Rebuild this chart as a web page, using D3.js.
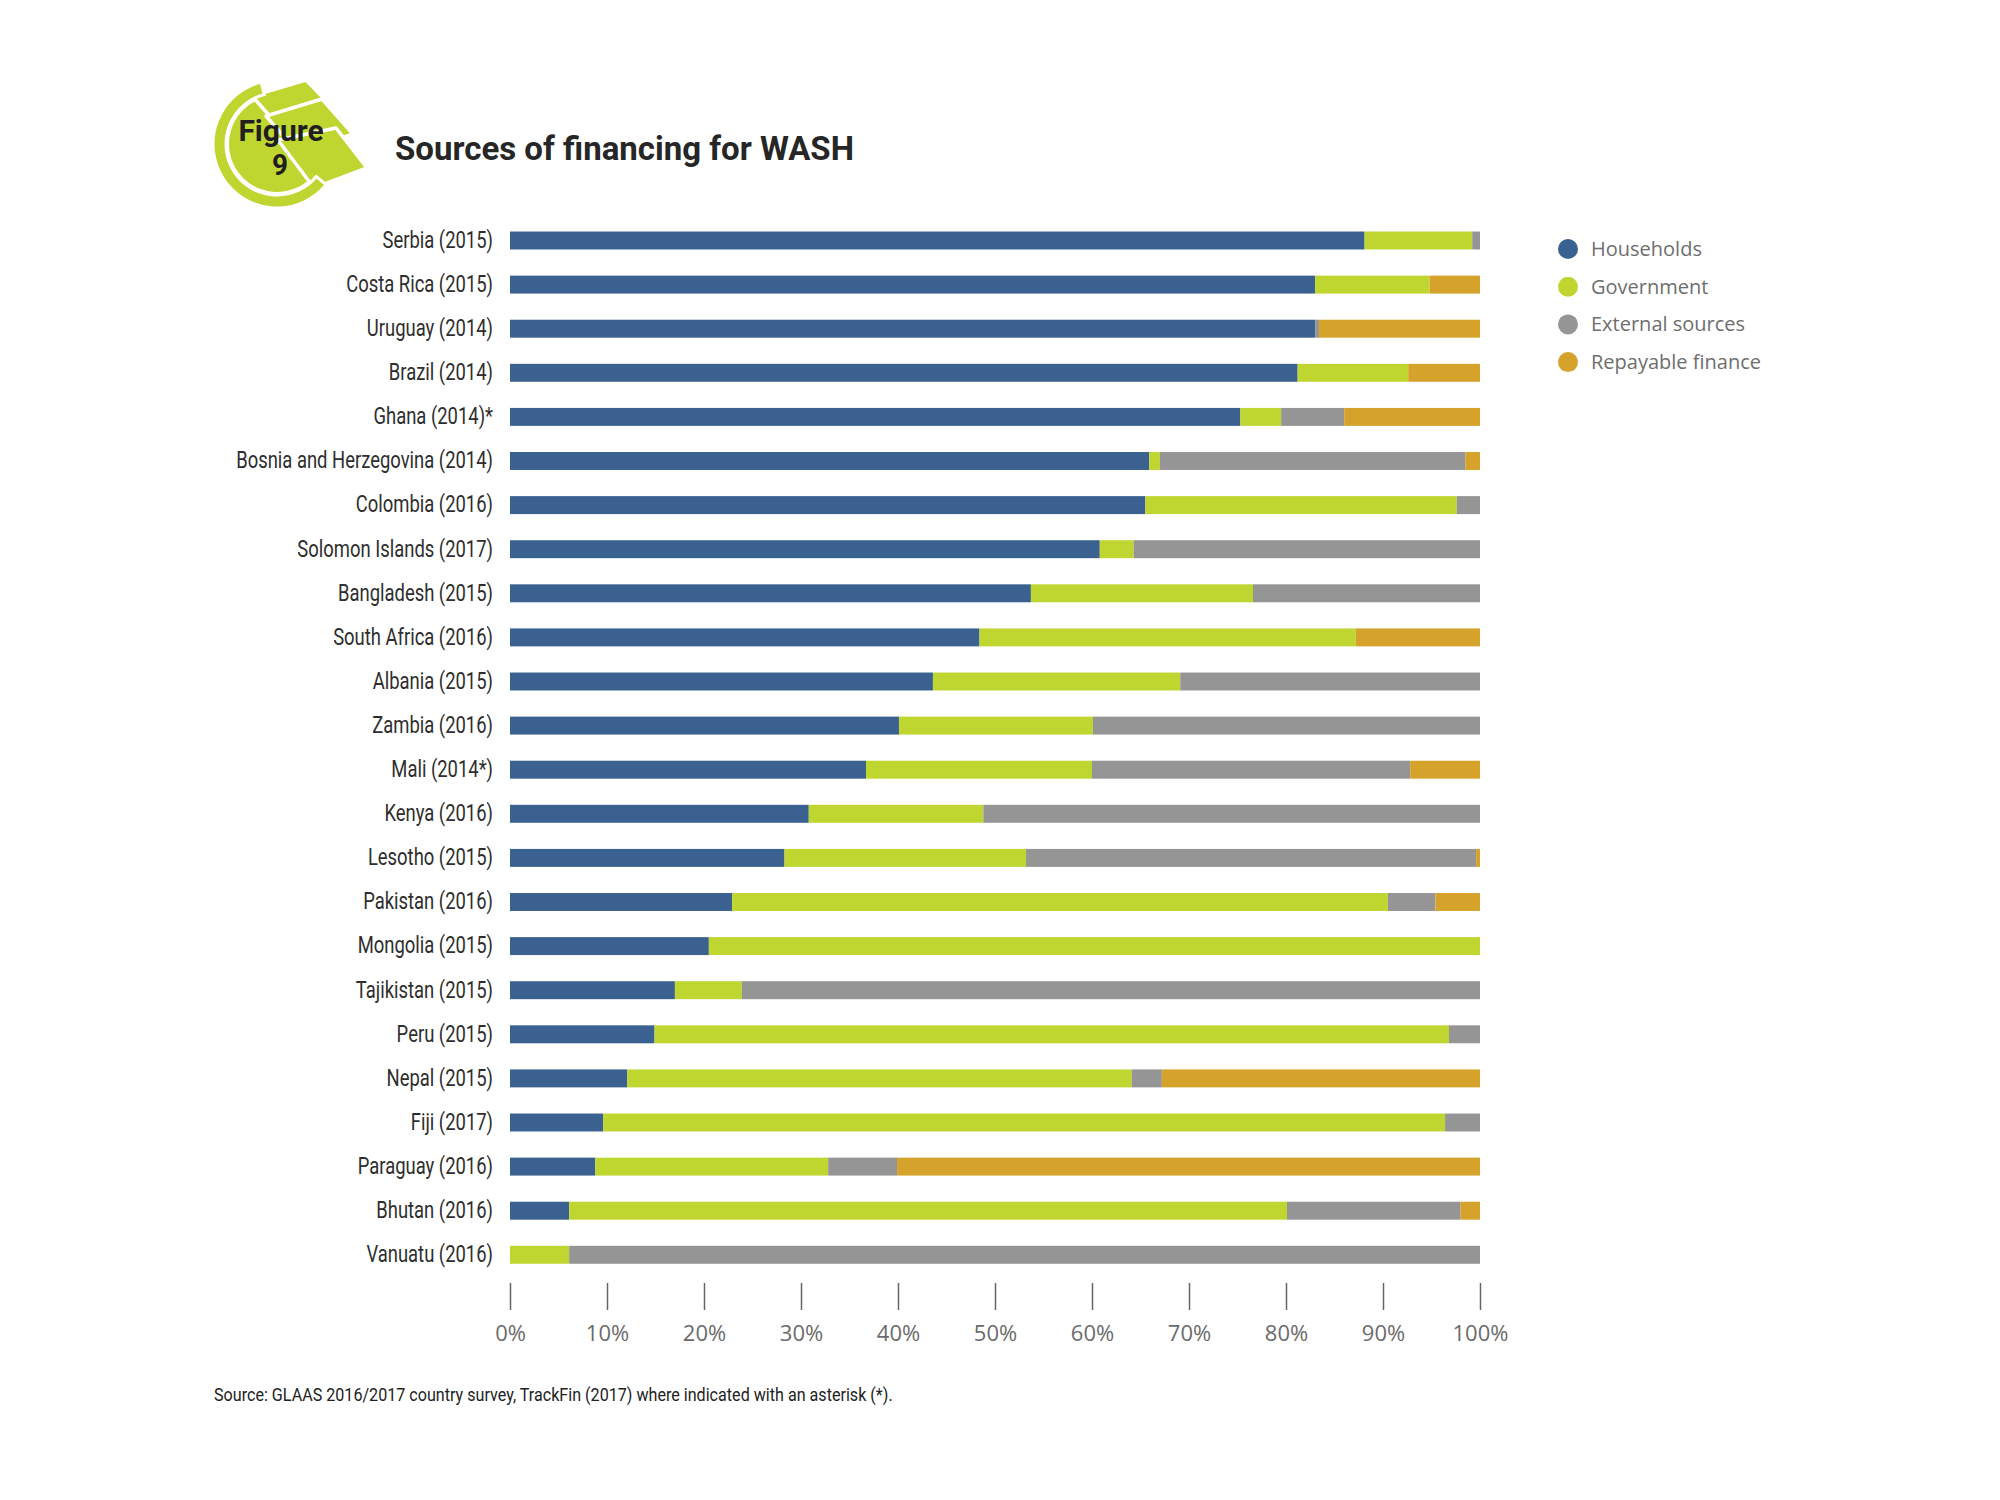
<!DOCTYPE html>
<html>
<head>
<meta charset="utf-8">
<script src="https://cdn.jsdelivr.net/npm/d3@7"></script>
<style>
  body { margin: 0; background: #fff; }
  svg { display: block; }
</style>
</head>
<body>
<div id="chart"></div>
<script>
// countries, top to bottom
const countries = [
  "Serbia (2015)", "Costa Rica (2015)", "Uruguay (2014)", "Brazil (2014)", "Ghana (2014)*",
  "Bosnia and Herzegovina (2014)", "Colombia (2016)", "Solomon Islands (2017)", "Bangladesh (2015)",
  "South Africa (2016)", "Albania (2015)", "Zambia (2016)", "Mali (2014*)", "Kenya (2016)",
  "Lesotho (2015)", "Pakistan (2016)", "Mongolia (2015)", "Tajikistan (2015)", "Peru (2015)",
  "Nepal (2015)", "Fiji (2017)", "Paraguay (2016)", "Bhutan (2016)", "Vanuatu (2016)"
];

// shares in %, same order as countries
const households = [88.1, 83.0, 83.0, 81.2, 75.3, 65.9, 65.5, 60.8, 53.7, 48.4, 43.6, 40.1, 36.7, 30.8, 28.3, 22.9, 20.5, 17.0, 14.9, 12.1, 9.6, 8.8, 6.1, 0];
const government = [11.1, 11.8, 0, 11.4, 4.2, 1.1, 32.1, 3.5, 22.9, 38.8, 25.5, 20.0, 23.3, 18.0, 24.9, 67.6, 79.5, 6.9, 81.9, 52.0, 86.8, 24.0, 74.0, 6.1];
const external = [0.8, 0, 0.4, 0, 6.5, 31.5, 2.4, 35.7, 23.4, 0, 30.9, 39.9, 32.8, 51.2, 46.4, 4.9, 0, 76.1, 3.2, 3.1, 3.6, 7.1, 17.9, 93.9];
const repayable = [0, 5.2, 16.6, 7.4, 14.0, 1.5, 0, 0, 0, 12.8, 0, 0, 7.2, 0, 0.4, 4.6, 0, 0, 0, 32.8, 0, 60.1, 2.0, 0];

const seriesNames = ["Households", "Government", "External sources", "Repayable finance"];
const seriesColors = ["#3b6190", "#bfd631", "#959595", "#d5a22b"];
const xTicks = [0, 10, 20, 30, 40, 50, 60, 70, 80, 90, 100];

const rows = countries.map((c, i) => ({
  country: c,
  "Households": households[i],
  "Government": government[i],
  "External sources": external[i],
  "Repayable finance": repayable[i]
}));

const width = 2000, height = 1500;
const svg = d3.select("#chart").append("svg")
  .attr("width", width)
  .attr("height", height);

// the original uses a condensed face; squeeze a normal one to the same width
function squeeze(sel, targetWidth, anchorX) {
  let w = 0;
  sel.each(function () { w = Math.max(w, this.getComputedTextLength()); });
  const k = Math.min(1, targetWidth / w);
  sel.attr("x", 0).attr("transform", `translate(${anchorX},0) scale(${k},1)`);
}

const x = d3.scaleLinear().domain([0, 100]).range([510, 1480]);
const step = 44.1;
const y = d3.scaleBand().domain(countries).range([240.5 - step / 2, 240.5 - step / 2 + step * countries.length])
  .paddingInner(0.593).paddingOuter(0.2965);
const color = d3.scaleOrdinal().domain(seriesNames).range(seriesColors);

// stacked bars
const stacked = d3.stack().keys(seriesNames)(rows);
svg.append("g")
  .selectAll("g")
  .data(stacked)
  .join("g")
  .attr("fill", d => color(d.key))
  .selectAll("rect")
  .data(d => d)
  .join("rect")
  .attr("x", d => x(d[0]))
  .attr("y", d => y(d.data.country))
  .attr("width", d => Math.max(0, x(d[1]) - x(d[0])))
  .attr("height", y.bandwidth());

// country labels
const yAxis = svg.append("g")
  .attr("transform", "translate(510,0)")
  .call(d3.axisLeft(y).tickSize(0).tickPadding(17));
yAxis.select(".domain").remove();
const yLabels = yAxis.selectAll("text")
  .attr("font-family", "Roboto, sans-serif")
  .attr("font-size", 23)
  .attr("fill", "#2e2e2e");
squeeze(yLabels, 257, -17);

// percent axis
const xAxis = svg.append("g")
  .attr("transform", "translate(0,1283)")
  .call(d3.axisBottom(x).tickValues(xTicks).tickFormat(d => d + "%").tickSize(27).tickPadding(15));
xAxis.select(".domain").remove();
xAxis.selectAll("line").attr("stroke", "#666").attr("stroke-width", 1.5);
xAxis.selectAll("text")
  .attr("font-family", "'Open Sans', sans-serif")
  .attr("font-size", 22)
  .attr("fill", "#6b6b6b");

// legend
const legend = svg.append("g")
  .selectAll("g")
  .data(seriesNames)
  .join("g")
  .attr("transform", (d, i) => `translate(1568,${249 + i * 37.7})`);
legend.append("circle")
  .attr("r", 10)
  .attr("fill", d => color(d));
legend.append("text")
  .attr("x", 23)
  .attr("dy", "0.35em")
  .attr("font-family", "'Open Sans', sans-serif")
  .attr("font-size", 20)
  .attr("fill", "#6e6e6e")
  .text(d => d);

// title
svg.append("text")
  .attr("x", 395)
  .attr("y", 160)
  .attr("font-family", "Roboto, sans-serif")
  .attr("font-weight", "bold")
  .attr("font-size", 33)
  .attr("fill", "#262626")
  .text("Sources of financing for WASH");

// figure badge: green swoosh with fanned bills
const green = "#bfd631";
const logo = svg.append("g");
logo.append("circle")
  .attr("cx", 277).attr("cy", 144).attr("r", 48)
  .attr("fill", green);
const bills = [
  [[252, 96], [306, 80], [338, 113], [284, 132]],
  [[266, 116], [322, 99], [353, 134], [298, 153]],
  [[278, 140], [336, 128], [367, 168], [314, 188]]
];
logo.selectAll("polygon")
  .data(bills)
  .join("polygon")
  .attr("points", d => d.join(" "))
  .attr("fill", green)
  .attr("stroke", "#fff")
  .attr("stroke-width", 3.5)
  .attr("stroke-linejoin", "round");
logo.append("path")
  .attr("transform", "translate(277,144)")
  .attr("d", d3.arc().innerRadius(51).outerRadius(64)
    .startAngle(Math.PI * 0.72).endAngle(Math.PI * 1.92)())
  .attr("fill", green)
  .attr("stroke", "#fff")
  .attr("stroke-width", 3);
const badgeText = logo.append("g")
  .attr("font-family", "Roboto, sans-serif")
  .attr("font-weight", "bold")
  .attr("font-size", 30)
  .attr("fill", "#1f1f1f")
  .attr("text-anchor", "middle");
const fig = badgeText.append("text").attr("y", 141).text("Figure");
squeeze(fig, 86, 281);
const nine = badgeText.append("text").attr("y", 175).text("9");
squeeze(nine, 16, 280);

// source note
const src = svg.append("text")
  .attr("y", 1401)
  .attr("font-family", "Roboto, sans-serif")
  .attr("font-size", 18)
  .attr("fill", "#222")
  .text("Source: GLAAS 2016/2017 country survey, TrackFin (2017) where indicated with an asterisk (*).");
squeeze(src, 679, 214);
</script>
</body>
</html>
